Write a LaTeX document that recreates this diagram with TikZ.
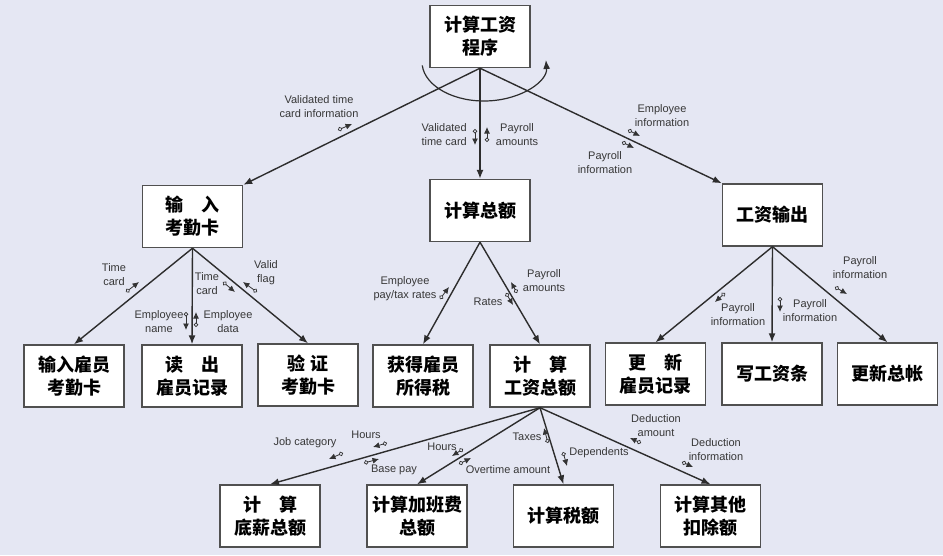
\documentclass[tikz,border=0pt]{standalone}
\usepackage{fontspec}
\setmainfont{Liberation Sans}
\newfontfamily\cjk{Noto Sans CJK SC}
\usetikzlibrary{arrows.meta}
\definecolor{bgpanel}{RGB}{229,231,243}
\definecolor{boxline}{RGB}{80,80,80}
\definecolor{flowline}{RGB}{45,45,45}
\definecolor{labeltext}{RGB}{55,55,55}

\begin{document}
\begin{tikzpicture}[
	x=1pt, y=-1pt,
	module/.style={rectangle, draw=boxline, line width=1.4pt, fill=white, minimum width=100pt, minimum height=62pt, inner sep=0pt, align=center, font=\cjk\bfseries\fontsize{18}{23}\selectfont},
	call/.style={-{Latex[length=9pt,width=7pt]}, line width=1.4pt, draw=flowline},
	couple/.style={{Circle[open,length=4.5pt,width=4.5pt,line width=0.7pt]}-{Latex[length=6.5pt,width=6pt]}, line width=0.8pt, draw=black!80},
	datalabel/.style={inner sep=0pt, align=center, text=labeltext, font=\fontsize{11}{14}\selectfont}
	]
	
	% Background
	\fill[bgpanel] (0,0) rectangle (943,555);
	
	% Root module
	\node[module] (payroll) at (480,36.5) {计算工资\\程序};
	
	% Second level
	\node[module] (readcard) at (192.5,216.5) {输　入\\考勤卡};
	\node[module] (gross) at (480,210.5) {计算总额};
	\node[module] (output) at (772.5,215) {工资输出};
	
	% Third level
	\node[module] (enter) at (74,376) {输入雇员\\考勤卡};
	\node[module] (readrec) at (192,376) {读　出\\雇员记录};
	\node[module] (validate) at (308,375) {验 证\\考勤卡};
	\node[module] (tax) at (423,376) {获得雇员\\所得税};
	\node[module] (grosspay) at (540,376) {计　算\\工资总额};
	\node[module] (update) at (655.5,374) {更　新\\雇员记录};
	\node[module] (slip) at (772,374) {写工资条};
	\node[module] (ledger) at (887.5,374) {更新总帐};
	
	% Fourth level
	\node[module] (base) at (270,516) {计　算\\底薪总额};
	\node[module] (overtime) at (417,516) {计算加班费\\总额};
	\node[module] (taxcalc) at (563.5,516) {计算税额};
	\node[module] (other) at (710.5,516) {计算其他\\扣除额};
	
	% Calls
	\draw[call] (payroll.south) -- (readcard.north east);
	\draw[call] (payroll.south) -- (gross.north);
	\draw[call] (payroll.south) -- (output.north west);
	\foreach \c in {enter,readrec,validate}
		\draw[call] (readcard.south) -- (\c.north);
	\foreach \c in {tax,grosspay}
		\draw[call] (gross.south) -- (\c.north);
	\foreach \c in {update,slip,ledger}
		\draw[call] (output.south) -- (\c.north);
	\foreach \c in {base,overtime,taxcalc,other}
		\draw[call] (grosspay.south) -- (\c.north);
	
	% Loop arc under the root
	\draw[call, line width=1.2pt] (484,62) ++(175:62 and 39) arc[start angle=175, end angle=-3, x radius=62, y radius=39];
	
	% Data couples
	\foreach \xa/\ya/\xb/\yb in {338/130/352/124, 475/129/475/145, 487/142/487/127,
		628/130/640/136, 622/142/634/148,
		126/292/139/282, 223/282/235/292, 257/292/243/282, 186/312/186/330, 196/327/196/312,
		440/299/449/287, 517/293/511/282, 506/293/513/305,
		725/293/715/302, 780/297/780/312, 835/287/847/294,
		343/453/329/459, 387/443/373/447, 364/463/379/459, 463/449/452/456, 459/464/471/458,
		548/443/544/428, 563/452/567/466, 641/443/630/438, 682/462/693/467}
		\draw[couple] (\xa,\ya) -- (\xb,\yb);
	
	% Couple labels
	\node[datalabel] (vtcinfo) at (319,107) {Validated time\\card information};
	\node[datalabel, anchor=east] (vtcard) at (467,135) {Validated\\time card};
	\node[datalabel] (payamt) at (517,135) {Payroll\\amounts};
	\node[datalabel] (empinfo) at (662,116) {Employee\\information};
	\node[datalabel] (payinfo) at (605,163) {Payroll\\information};
	\node[datalabel] (tcard) at (114,275) {Time\\card};
	\node[datalabel] (tcardb) at (207,284) {Time\\card};
	\node[datalabel] (vflag) at (266,273) {Valid\\flag};
	\node[datalabel] (empname) at (159,322) {Employee\\name};
	\node[datalabel] (empdata) at (228,322) {Employee\\data};
	\node[datalabel] (taxrates) at (405,289) {Employee\\pay/tax rates};
	\node[datalabel] (payamtb) at (544,281) {Payroll\\amounts};
	\node[datalabel] (rates) at (488,302) {Rates};
	\node[datalabel] (pinfoa) at (738,315) {Payroll\\information};
	\node[datalabel] (pinfob) at (810,311) {Payroll\\information};
	\node[datalabel] (pinfoc) at (860,268) {Payroll\\information};
	\node[datalabel] (jobcat) at (305,443) {Job category};
	\node[datalabel] (hoursa) at (366,435) {Hours};
	\node[datalabel] (basepay) at (394,470) {Base pay};
	\node[datalabel] (hoursb) at (442,447) {Hours};
	\node[datalabel] (otamt) at (508,470) {Overtime amount};
	\node[datalabel] (taxes) at (527,437) {Taxes};
	\node[datalabel] (deps) at (599,453) {Dependents};
	\node[datalabel] (dedamt) at (656,426) {Deduction\\amount};
	\node[datalabel] (dedinfo) at (716,450) {Deduction\\information};
	
\end{tikzpicture}
\end{document}
